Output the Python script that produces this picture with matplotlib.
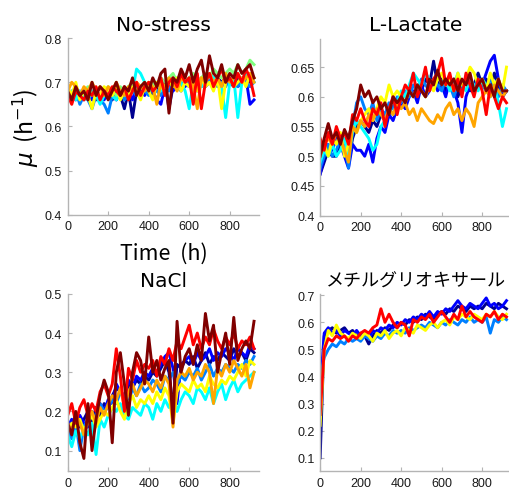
import numpy as np
import matplotlib
matplotlib.use('Agg')
import matplotlib.pyplot as plt
from matplotlib.ticker import FormatStrFormatter

plt.rcParams['font.family'] = ['Liberation Sans', 'Noto Sans CJK JP']
plt.rcParams['mathtext.fontset'] = 'dejavusans'

# sampling times (h)
hours = np.arange(0, 921, 20)

# line colours, jet-like order (first drawn at the bottom)
jet_colors = {
    'navy': '#000090',
    'blue': '#0000ff',
    'dodger': '#0080ff',
    'cyan': '#00ffff',
    'green': '#80ff80',
    'yellow': '#ffff00',
    'orange': '#ffa500',
    'red': '#ff0000',
    'darkred': '#800000',
}

# ---- No-stress ----
ns_navy = [0.68, 0.66, 0.67, 0.68, 0.66, 0.67, 0.68, 0.66, 0.67, 0.68,
           0.67, 0.66, 0.68, 0.67, 0.64, 0.68, 0.62, 0.68, 0.67, 0.69,
           0.68, 0.67, 0.69, 0.68, 0.70, 0.64, 0.69, 0.70, 0.69, 0.70,
           0.69, 0.71, 0.70, 0.69, 0.71, 0.70, 0.69, 0.71, 0.70, 0.71,
           0.70, 0.69, 0.71, 0.70, 0.71, 0.70, 0.71]
ns_blue = [0.67, 0.68, 0.66, 0.67, 0.68, 0.67, 0.66, 0.68, 0.67, 0.66,
           0.68, 0.67, 0.66, 0.68, 0.67, 0.68, 0.66, 0.69, 0.68, 0.67,
           0.69, 0.68, 0.66, 0.65, 0.69, 0.70, 0.68, 0.69, 0.70, 0.69,
           0.71, 0.69, 0.70, 0.71, 0.69, 0.70, 0.71, 0.70, 0.69, 0.71,
           0.70, 0.71, 0.69, 0.70, 0.71, 0.65, 0.66]
ns_dodger = [0.66, 0.67, 0.68, 0.65, 0.67, 0.66, 0.64, 0.67, 0.66, 0.65,
             0.63, 0.67, 0.66, 0.68, 0.66, 0.67, 0.68, 0.67, 0.69, 0.68,
             0.67, 0.69, 0.68, 0.67, 0.69, 0.68, 0.70, 0.69, 0.68, 0.70,
             0.69, 0.70, 0.68, 0.70, 0.69, 0.71, 0.70, 0.69, 0.70, 0.69,
             0.71, 0.70, 0.69, 0.71, 0.70, 0.69, 0.70]
ns_cyan = [0.67, 0.68, 0.66, 0.68, 0.67, 0.66, 0.68, 0.67, 0.65, 0.67,
           0.68, 0.67, 0.66, 0.68, 0.67, 0.69, 0.68, 0.73, 0.72, 0.70,
           0.68, 0.69, 0.70, 0.68, 0.69, 0.70, 0.69, 0.71, 0.70, 0.68,
           0.64, 0.70, 0.71, 0.69, 0.70, 0.72, 0.71, 0.70, 0.69, 0.62,
           0.70, 0.71, 0.62, 0.70, 0.72, 0.71, 0.70]
ns_green = [0.68, 0.67, 0.69, 0.67, 0.68, 0.69, 0.67, 0.68, 0.69, 0.68,
            0.69, 0.68, 0.67, 0.69, 0.68, 0.69, 0.70, 0.68, 0.69, 0.70,
            0.69, 0.70, 0.69, 0.71, 0.70, 0.71, 0.72, 0.70, 0.71, 0.70,
            0.71, 0.72, 0.70, 0.71, 0.72, 0.71, 0.73, 0.72, 0.71, 0.72,
            0.73, 0.72, 0.74, 0.72, 0.73, 0.75, 0.74]
ns_yellow = [0.69, 0.67, 0.70, 0.66, 0.68, 0.67, 0.64, 0.68, 0.67, 0.69,
             0.68, 0.67, 0.69, 0.66, 0.68, 0.67, 0.69, 0.68, 0.66, 0.69,
             0.68, 0.66, 0.70, 0.69, 0.68, 0.70, 0.69, 0.71, 0.68, 0.70,
             0.69, 0.70, 0.68, 0.71, 0.69, 0.70, 0.68, 0.71, 0.64, 0.70,
             0.71, 0.69, 0.70, 0.71, 0.69, 0.72, 0.71]
ns_orange = [0.68, 0.70, 0.69, 0.67, 0.69, 0.68, 0.70, 0.68, 0.69, 0.67,
             0.69, 0.68, 0.70, 0.68, 0.67, 0.69, 0.68, 0.70, 0.69, 0.68,
             0.70, 0.69, 0.65, 0.70, 0.69, 0.71, 0.70, 0.68, 0.71, 0.70,
             0.71, 0.69, 0.64, 0.71, 0.70, 0.72, 0.70, 0.71, 0.69, 0.72,
             0.70, 0.71, 0.72, 0.70, 0.71, 0.72, 0.70]
ns_red = [0.67, 0.65, 0.68, 0.67, 0.66, 0.68, 0.67, 0.69, 0.66, 0.68,
          0.67, 0.69, 0.68, 0.67, 0.69, 0.66, 0.68, 0.70, 0.67, 0.69,
          0.70, 0.68, 0.69, 0.71, 0.67, 0.70, 0.71, 0.69, 0.72, 0.70,
          0.71, 0.65, 0.72, 0.64, 0.70, 0.72, 0.69, 0.71, 0.73, 0.70,
          0.71, 0.69, 0.72, 0.70, 0.73, 0.71, 0.67]
ns_darkred = [0.68, 0.66, 0.69, 0.67, 0.68, 0.66, 0.70, 0.67, 0.69, 0.68,
              0.66, 0.68, 0.70, 0.67, 0.69, 0.68, 0.71, 0.67, 0.69, 0.70,
              0.68, 0.71, 0.69, 0.72, 0.73, 0.63, 0.71, 0.70, 0.73, 0.71,
              0.74, 0.70, 0.73, 0.75, 0.70, 0.76, 0.72, 0.71, 0.74, 0.70,
              0.72, 0.71, 0.74, 0.72, 0.73, 0.74, 0.71]

# ---- L-Lactate ----
ll_navy = [0.47, 0.49, 0.51, 0.50, 0.50, 0.52, 0.51, 0.49, 0.53, 0.55,
           0.56, 0.55, 0.54, 0.56, 0.55, 0.57, 0.56, 0.58, 0.57, 0.59,
           0.60, 0.59, 0.61, 0.60, 0.62, 0.61, 0.63, 0.62, 0.66, 0.62,
           0.63, 0.61, 0.62, 0.63, 0.60, 0.62, 0.63, 0.61, 0.62, 0.64,
           0.62, 0.63, 0.61, 0.64, 0.62, 0.60, 0.61]
ll_blue = [0.47, 0.50, 0.52, 0.51, 0.53, 0.52, 0.50, 0.48, 0.52, 0.51,
           0.51, 0.50, 0.52, 0.49, 0.53, 0.55, 0.54, 0.57, 0.56, 0.58,
           0.59, 0.58, 0.60, 0.61, 0.59, 0.62, 0.60, 0.61, 0.63, 0.61,
           0.62, 0.60, 0.63, 0.61, 0.59, 0.54, 0.60, 0.62, 0.61, 0.63,
           0.62, 0.64, 0.66, 0.67, 0.63, 0.60, 0.61]
ll_dodger = [0.48, 0.50, 0.52, 0.50, 0.51, 0.53, 0.52, 0.48, 0.55, 0.59,
             0.60, 0.58, 0.57, 0.59, 0.56, 0.58, 0.57, 0.59, 0.58, 0.60,
             0.59, 0.61, 0.60, 0.62, 0.61, 0.63, 0.62, 0.61, 0.63, 0.62,
             0.61, 0.63, 0.62, 0.60, 0.62, 0.61, 0.63, 0.62, 0.61, 0.63,
             0.62, 0.61, 0.63, 0.62, 0.60, 0.62, 0.61]
ll_cyan = [0.49, 0.51, 0.50, 0.52, 0.50, 0.51, 0.53, 0.50, 0.54, 0.56,
           0.55, 0.54, 0.53, 0.51, 0.52, 0.55, 0.56, 0.58, 0.57, 0.59,
           0.61, 0.60, 0.62, 0.64, 0.63, 0.62, 0.64, 0.63, 0.62, 0.64,
           0.62, 0.63, 0.61, 0.62, 0.64, 0.62, 0.61, 0.63, 0.62, 0.61,
           0.63, 0.62, 0.60, 0.62, 0.59, 0.55, 0.58]
ll_yellow = [0.51, 0.52, 0.50, 0.53, 0.52, 0.54, 0.50, 0.52, 0.55, 0.54,
             0.56, 0.57, 0.58, 0.56, 0.58, 0.60, 0.59, 0.62, 0.60, 0.61,
             0.60, 0.59, 0.61, 0.60, 0.62, 0.61, 0.60, 0.62, 0.61, 0.63,
             0.64, 0.62, 0.63, 0.61, 0.64, 0.62, 0.63, 0.65, 0.64, 0.62,
             0.63, 0.61, 0.64, 0.62, 0.63, 0.61, 0.65]
ll_orange = [0.50, 0.52, 0.53, 0.52, 0.54, 0.53, 0.51, 0.49, 0.55, 0.54,
             0.56, 0.55, 0.57, 0.56, 0.58, 0.57, 0.56, 0.58, 0.57, 0.59,
             0.58, 0.59, 0.57, 0.58, 0.56, 0.58, 0.57, 0.56, 0.555, 0.57,
             0.56, 0.58, 0.59, 0.57, 0.58, 0.56, 0.58, 0.57, 0.55, 0.59,
             0.60, 0.61, 0.60, 0.62, 0.61, 0.60, 0.61]
ll_red = [0.53, 0.51, 0.54, 0.52, 0.55, 0.53, 0.54, 0.52, 0.57, 0.56,
          0.58, 0.56, 0.55, 0.58, 0.57, 0.59, 0.55, 0.58, 0.60, 0.57,
          0.60, 0.62, 0.61, 0.64, 0.60, 0.62, 0.65, 0.61, 0.63, 0.64,
          0.665, 0.62, 0.64, 0.61, 0.63, 0.60, 0.64, 0.62, 0.60, 0.63,
          0.61, 0.57, 0.62, 0.60, 0.58, 0.60, 0.59]
ll_darkred = [0.50, 0.53, 0.555, 0.53, 0.54, 0.52, 0.545, 0.53, 0.56, 0.58,
              0.62, 0.60, 0.61, 0.59, 0.60, 0.58, 0.59, 0.57, 0.60, 0.59,
              0.60, 0.59, 0.61, 0.60, 0.62, 0.61, 0.60, 0.63, 0.62, 0.645,
              0.62, 0.63, 0.62, 0.63, 0.61, 0.63, 0.62, 0.64, 0.61, 0.62,
              0.63, 0.61, 0.62, 0.60, 0.63, 0.61, 0.61]

# ---- NaCl ----
na_navy = [0.17, 0.15, 0.19, 0.16, 0.18, 0.20, 0.17, 0.21, 0.19, 0.22,
           0.21, 0.24, 0.26, 0.25, 0.23, 0.27, 0.26, 0.28, 0.27, 0.29,
           0.28, 0.30, 0.29, 0.31, 0.33, 0.30, 0.21, 0.32, 0.31, 0.33,
           0.32, 0.34, 0.31, 0.33, 0.35, 0.32, 0.34, 0.33, 0.35, 0.34,
           0.33, 0.36, 0.34, 0.35, 0.33, 0.36, 0.35]
na_blue = [0.16, 0.18, 0.15, 0.19, 0.17, 0.16, 0.20, 0.18, 0.22, 0.20,
           0.23, 0.22, 0.27, 0.25, 0.24, 0.28, 0.26, 0.29, 0.28, 0.30,
           0.29, 0.31, 0.30, 0.32, 0.34, 0.35, 0.31, 0.22, 0.32, 0.33,
           0.34, 0.32, 0.35, 0.33, 0.34, 0.36, 0.33, 0.35, 0.34, 0.36,
           0.35, 0.33, 0.36, 0.35, 0.34, 0.37, 0.36]
na_dodger = [0.15, 0.13, 0.17, 0.10, 0.16, 0.18, 0.15, 0.19, 0.22, 0.20,
             0.21, 0.23, 0.22, 0.25, 0.24, 0.22, 0.26, 0.24, 0.27, 0.25,
             0.26, 0.28, 0.27, 0.25, 0.29, 0.28, 0.30, 0.27, 0.29, 0.28,
             0.30, 0.29, 0.31, 0.28, 0.30, 0.32, 0.29, 0.31, 0.30, 0.32,
             0.31, 0.30, 0.32, 0.31, 0.33, 0.32, 0.34]
na_cyan = [0.14, 0.11, 0.15, 0.13, 0.16, 0.14, 0.17, 0.09, 0.18, 0.16,
           0.19, 0.21, 0.20, 0.22, 0.19, 0.18, 0.21, 0.20, 0.19, 0.22,
           0.21, 0.18, 0.22, 0.20, 0.23, 0.21, 0.24, 0.20, 0.23, 0.25,
           0.24, 0.22, 0.26, 0.25, 0.23, 0.26, 0.22, 0.25, 0.27, 0.23,
           0.26, 0.28, 0.25, 0.27, 0.28, 0.29, 0.30]
na_yellow = [0.15, 0.17, 0.16, 0.18, 0.15, 0.17, 0.19, 0.16, 0.18, 0.20,
             0.19, 0.21, 0.23, 0.20, 0.18, 0.22, 0.24, 0.21, 0.23, 0.22,
             0.24, 0.22, 0.25, 0.23, 0.26, 0.24, 0.17, 0.25, 0.27, 0.26,
             0.25, 0.28, 0.26, 0.27, 0.25, 0.29, 0.27, 0.26, 0.28, 0.27,
             0.29, 0.28, 0.30, 0.32, 0.29, 0.33, 0.32]
na_orange = [0.17, 0.15, 0.19, 0.17, 0.14, 0.18, 0.20, 0.17, 0.21, 0.19,
             0.22, 0.24, 0.23, 0.26, 0.21, 0.25, 0.27, 0.24, 0.26, 0.28,
             0.27, 0.25, 0.28, 0.26, 0.29, 0.27, 0.16, 0.28, 0.30, 0.29,
             0.31, 0.28, 0.30, 0.29, 0.32, 0.30, 0.22, 0.31, 0.29, 0.32,
             0.30, 0.33, 0.31, 0.29, 0.32, 0.26, 0.30]
na_red = [0.19, 0.22, 0.17, 0.21, 0.23, 0.19, 0.22, 0.20, 0.25, 0.27,
          0.24, 0.27, 0.36, 0.29, 0.20, 0.31, 0.28, 0.33, 0.30, 0.32,
          0.31, 0.33, 0.29, 0.34, 0.32, 0.36, 0.33, 0.38, 0.36, 0.39,
          0.42, 0.37, 0.40, 0.36, 0.39, 0.37, 0.41, 0.38, 0.36, 0.39,
          0.37, 0.40, 0.36, 0.38, 0.37, 0.39, 0.36]
na_darkred = [0.17, 0.14, 0.20, 0.12, 0.08, 0.22, 0.10, 0.18, 0.24, 0.28,
              0.25, 0.12, 0.30, 0.35, 0.27, 0.19, 0.30, 0.35, 0.33, 0.27,
              0.39, 0.30, 0.33, 0.28, 0.31, 0.33, 0.17, 0.43, 0.30, 0.34,
              0.36, 0.32, 0.37, 0.33, 0.45, 0.38, 0.42, 0.30, 0.35, 0.40,
              0.32, 0.44, 0.33, 0.36, 0.38, 0.36, 0.43]

# ---- methylglyoxal ----
mg_navy = [0.10, 0.55, 0.57, 0.58, 0.56, 0.57, 0.58, 0.56, 0.57, 0.55,
           0.56, 0.55, 0.52, 0.55, 0.57, 0.56, 0.58, 0.57, 0.59, 0.58,
           0.60, 0.59, 0.61, 0.60, 0.62, 0.61, 0.63, 0.62, 0.61, 0.63,
           0.64, 0.63, 0.65, 0.64, 0.66, 0.65, 0.64, 0.66, 0.65, 0.66,
           0.65, 0.67, 0.66, 0.65, 0.67, 0.66, 0.65]
mg_blue = [0.35, 0.56, 0.58, 0.56, 0.57, 0.55, 0.57, 0.56, 0.55, 0.57,
           0.55, 0.56, 0.54, 0.57, 0.56, 0.58, 0.57, 0.59, 0.58, 0.60,
           0.59, 0.61, 0.60, 0.62, 0.61, 0.63, 0.62, 0.64, 0.62, 0.64,
           0.63, 0.65, 0.64, 0.66, 0.68, 0.66, 0.65, 0.67, 0.66, 0.65,
           0.67, 0.69, 0.66, 0.67, 0.65, 0.66, 0.68]
mg_dodger = [0.40, 0.47, 0.50, 0.52, 0.51, 0.53, 0.52, 0.54, 0.53, 0.54,
             0.53, 0.55, 0.54, 0.53, 0.55, 0.54, 0.56, 0.55, 0.57, 0.56,
             0.57, 0.56, 0.58, 0.57, 0.58, 0.59, 0.58, 0.60, 0.59, 0.58,
             0.60, 0.59, 0.61, 0.60, 0.59, 0.61, 0.60, 0.62, 0.60, 0.61,
             0.60, 0.62, 0.56, 0.61, 0.60, 0.62, 0.61]
mg_yellow = [0.22, 0.50, 0.57, 0.55, 0.59, 0.56, 0.55, 0.54, 0.56, 0.55,
             0.54, 0.56, 0.55, 0.53, 0.56, 0.55, 0.57, 0.54, 0.56, 0.57,
             0.55, 0.58, 0.57, 0.56, 0.59, 0.58, 0.57, 0.59, 0.60, 0.58,
             0.60, 0.61, 0.59, 0.62, 0.61, 0.63, 0.62, 0.61, 0.63, 0.62,
             0.61, 0.63, 0.62, 0.64, 0.62, 0.61, 0.63]
mg_red = [0.26, 0.50, 0.54, 0.53, 0.55, 0.54, 0.55, 0.53, 0.55, 0.54,
          0.56, 0.57, 0.56, 0.58, 0.59, 0.65, 0.60, 0.63, 0.60, 0.58,
          0.60, 0.59, 0.55, 0.61, 0.60, 0.62, 0.61, 0.63, 0.60, 0.62,
          0.64, 0.62, 0.60, 0.63, 0.61, 0.66, 0.62, 0.64, 0.62, 0.61,
          0.60, 0.63, 0.62, 0.64, 0.61, 0.63, 0.62]

panels = [
    ('No-stress', [0.133, 0.559, 0.376, 0.361], (0.4, 0.8),
     [0.4, 0.5, 0.6, 0.7, 0.8],
     [('navy', ns_navy), ('blue', ns_blue), ('dodger', ns_dodger),
      ('cyan', ns_cyan), ('green', ns_green), ('yellow', ns_yellow),
      ('orange', ns_orange), ('red', ns_red), ('darkred', ns_darkred)]),
    ('L-Lactate', [0.629, 0.557, 0.376, 0.362], (0.4, 0.698),
     [0.4, 0.45, 0.5, 0.55, 0.6, 0.65],
     [('navy', ll_navy), ('blue', ll_blue), ('dodger', ll_dodger),
      ('cyan', ll_cyan), ('yellow', ll_yellow), ('orange', ll_orange),
      ('red', ll_red), ('darkred', ll_darkred)]),
    ('NaCl', [0.133, 0.034, 0.376, 0.363], (0.047, 0.5),
     [0.1, 0.2, 0.3, 0.4, 0.5],
     [('navy', na_navy), ('blue', na_blue), ('dodger', na_dodger),
      ('cyan', na_cyan), ('yellow', na_yellow), ('orange', na_orange),
      ('red', na_red), ('darkred', na_darkred)]),
    ('メチルグリオキサール', [0.629, 0.034, 0.376, 0.363], (0.05, 0.705),
     [0.1, 0.2, 0.3, 0.4, 0.5, 0.6, 0.7],
     [('navy', mg_navy), ('blue', mg_blue), ('dodger', mg_dodger),
      ('yellow', mg_yellow), ('red', mg_red)]),
]

fig = plt.figure(figsize=(5.09, 4.89), dpi=100)

for i, (title, pos, ylim, yticks, series) in enumerate(panels):
    ax = fig.add_axes(pos)
    for cname, vals in series:
        ax.plot(hours, vals, color=jet_colors[cname], lw=2.1)

    ax.set_xlim(0, 945)
    ax.set_ylim(*ylim)
    ax.set_xticks([0, 200, 400, 600, 800])
    ax.set_yticks(yticks)
    ax.yaxis.set_major_formatter(FormatStrFormatter('%g'))

    for side in ['top', 'right']:
        ax.spines[side].set_visible(False)
    for side in ['left', 'bottom']:
        ax.spines[side].set_color('#b4b4b4')
        ax.spines[side].set_linewidth(1.0)
    ax.tick_params(direction='in', length=3, color='#b4b4b4',
                   labelsize=9, labelcolor='#1a1a1a', pad=4)

    if i == 3:
        ax.set_title(title, fontsize=13, family='Noto Sans CJK JP', pad=6)
    else:
        ax.set_title(title, fontsize=14.5, family=['DejaVu Sans', 'Noto Sans CJK JP'], pad=6)

    if i == 0:
        ax.set_xlabel('Time  (h)', fontsize=15.5,
                      family='Noto Sans CJK JP', labelpad=7)
        ax.set_ylabel(r'$\mu\;\,$(h$^{-1}$)', fontsize=16.5,
                      family='Noto Sans CJK JP', labelpad=3)

fig.savefig('out.png', dpi=100)
